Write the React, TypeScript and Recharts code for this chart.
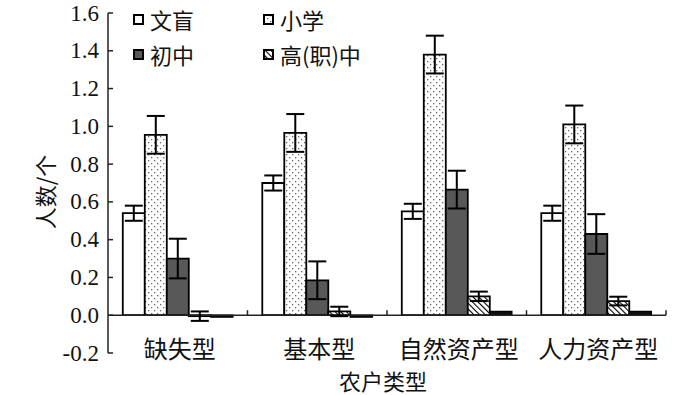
import { BarChart, Bar, XAxis, YAxis, ReferenceLine, ErrorBar } from "recharts";

const categories = ["缺失型", "基本型", "自然资产型", "人力资产型"];
const seriesNames = ["文盲", "小学", "初中", "高(职)中"];

const illiterate = [0.54, 0.70, 0.55, 0.54];
const illiterateErr = [0.04, 0.04, 0.04, 0.04];
const primary = [0.955, 0.965, 1.38, 1.01];
const primaryErr = [0.1, 0.1, 0.1, 0.1];
const middle = [0.3, 0.185, 0.665, 0.43];
const middleErr = [0.105, 0.1, 0.1, 0.105];
const high = [-0.005, 0.02, 0.1, 0.075];
const highErr = [0.025, 0.025, 0.025, 0.023];
const college = [-0.01, -0.01, 0.02, 0.02];

const yTicks = [-0.2, 0, 0.2, 0.4, 0.6, 0.8, 1.0, 1.2, 1.4, 1.6];

const data = categories.map((name, i) => ({
  name,
  illiterate: illiterate[i],
  illiterateErr: illiterateErr[i],
  primary: primary[i],
  primaryErr: primaryErr[i],
  middle: middle[i],
  middleErr: middleErr[i],
  high: high[i],
  highErr: highErr[i],
  college: college[i],
}));

const W = 700;
const H = 395;
const M = { top: 13, right: 34, left: 0, bottom: 0 };
const Y_AXIS_W = 108;
const X_AXIS_H = 42;
const plotW = W - M.left - M.right - Y_AXIS_W;
const plotH = H - M.top - M.bottom - X_AXIS_H;
const zeroY = M.top + (1.6 / 1.8) * plotH;
const band = plotW / categories.length;

const fills = ["#fff", "url(#dots)", "#585858", "url(#hatch)"];

const serifStyle = { fontFamily: "Liberation Serif" };
const cjkStyle = { fontFamily: "Noto Sans CJK SC" };

const YTick = (props: any) => {
  const { x, y, payload } = props;
  return (
    <g>
      <line x1={x + 8} x2={x + 13} y1={y} y2={y} stroke="#222" strokeWidth={1.5} />
      <text
        x={x - 1}
        y={y}
        textAnchor="end"
        dominantBaseline="central"
        style={serifStyle}
        fontSize={23}
        fill="#111"
      >
        {Number(payload.value).toFixed(1)}
      </text>
    </g>
  );
};

const XTick = (props: any) => {
  const { x, payload } = props;
  const bx = x + band / 2;
  return (
    <g>
      <line x1={bx} x2={bx} y1={zeroY} y2={zeroY - 5} stroke="#222" strokeWidth={1.5} />
      <text
        x={x + 2}
        y={M.top + plotH - 6}
        textAnchor="middle"
        dominantBaseline="central"
        style={cjkStyle}
        fontSize={24}
        fill="#111"
      >
        {payload.value}
      </text>
    </g>
  );
};

const Legend2 = () => (
  <div
    style={{
      position: "absolute",
      left: 133,
      top: 4,
      display: "grid",
      gridTemplateColumns: "130px 130px",
      rowGap: 4,
      fontFamily: "Noto Sans CJK SC",
      fontSize: 22,
      color: "#111",
      lineHeight: "31px",
    }}
  >
    {seriesNames.map((s, i) => (
      <div key={s} style={{ display: "flex", alignItems: "center" }}>
        <svg width={12} height={12} style={{ marginRight: 5 }}>
          <rect x={1} y={1} width={9} height={9} fill={fills[i]} stroke="#000" strokeWidth={2} />
        </svg>
        {s}
      </div>
    ))}
  </div>
);

export default function App() {
  return (
    <div style={{ position: "absolute", left: 0, top: 0, width: W, height: H, background: "#fff" }}>
      <svg width={0} height={0} style={{ position: "absolute" }}>
        <defs>
          <pattern id="dots" width={6} height={6} patternUnits="userSpaceOnUse">
            <rect width={6} height={6} fill="#fff" />
            <rect x={1} y={1} width={1.3} height={1.3} fill="#666" />
            <rect x={4} y={4} width={1.3} height={1.3} fill="#666" />
          </pattern>
          <pattern
            id="hatch"
            width={4}
            height={4}
            patternUnits="userSpaceOnUse"
            patternTransform="rotate(-45)"
          >
            <rect width={4} height={4} fill="#fff" />
            <line x1={0} y1={0} x2={0} y2={4} stroke="#000" strokeWidth={2.2} />
          </pattern>
        </defs>
      </svg>
      <BarChart
        width={W}
        height={H}
        data={data}
        margin={M}
        barCategoryGap="10.6%"
        barGap={0}
      >
        <YAxis
          type="number"
          domain={[-0.2, 1.6]}
          ticks={yTicks}
          width={Y_AXIS_W}
          tickSize={0}
          tickMargin={8}
          tickLine={false}
          tick={<YTick />}
          interval={0}
          axisLine={{ stroke: "#222", strokeWidth: 1.5 }}
          allowDataOverflow
          label={{
            content: () => (
              <text
                x={44}
                y={192}
                transform="rotate(-90 44 192)"
                textAnchor="middle"
                dominantBaseline="central"
                style={cjkStyle}
                fontSize={22}
                fill="#111"
              >
                人数/个
              </text>
            ),
          }}
        />
        <XAxis
          dataKey="name"
          height={X_AXIS_H}
          axisLine={false}
          tickLine={false}
          tickSize={0}
          interval={0}
          tick={<XTick />}
          label={{
            content: () => (
              <text
                x={M.left + Y_AXIS_W + plotW / 2 - 4}
                y={380}
                textAnchor="middle"
                dominantBaseline="central"
                style={cjkStyle}
                fontSize={22}
                fill="#111"
              >
                农户类型
              </text>
            ),
          }}
        />
        <ReferenceLine y={0} stroke="#222" strokeWidth={1.5} />
        <Bar dataKey="illiterate" fill={fills[0]} stroke="#000" strokeWidth={1.8} isAnimationActive={false}>
          <ErrorBar dataKey="illiterateErr" width={9} stroke="#000" strokeWidth={2} direction="y" />
        </Bar>
        <Bar dataKey="primary" fill={fills[1]} stroke="#000" strokeWidth={1.8} isAnimationActive={false}>
          <ErrorBar dataKey="primaryErr" width={9} stroke="#000" strokeWidth={2} direction="y" />
        </Bar>
        <Bar dataKey="middle" fill={fills[2]} stroke="#000" strokeWidth={1.8} isAnimationActive={false}>
          <ErrorBar dataKey="middleErr" width={9} stroke="#000" strokeWidth={2} direction="y" />
        </Bar>
        <Bar dataKey="high" fill={fills[3]} stroke="#000" strokeWidth={1.8} isAnimationActive={false}>
          <ErrorBar dataKey="highErr" width={9} stroke="#000" strokeWidth={2} direction="y" />
        </Bar>
        <Bar dataKey="college" fill="#111" stroke="#000" strokeWidth={1.5} isAnimationActive={false} />
      </BarChart>
      <Legend2 />
    </div>
  );
}
